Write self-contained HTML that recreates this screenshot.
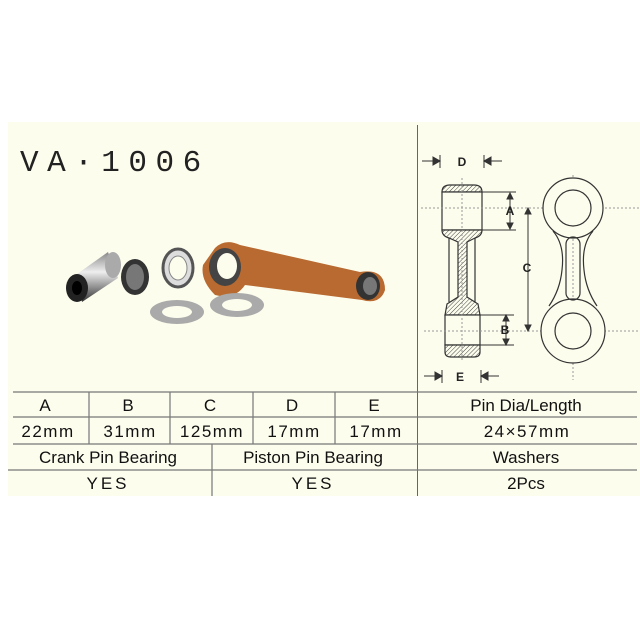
<!DOCTYPE html>
<html><head><meta charset="utf-8"><style>
html,body{margin:0;padding:0;background:#fff;}
body{width:640px;height:630px;position:relative;overflow:hidden;font-family:"Liberation Sans",sans-serif;}
</style></head><body>
<svg width="640" height="630" viewBox="0 0 640 630" xmlns="http://www.w3.org/2000/svg">
<defs>
<pattern id="h" width="3" height="3" patternUnits="userSpaceOnUse" patternTransform="rotate(45)">
<rect width="3" height="3" fill="#fdfdee"/><line x1="0" y1="0" x2="0" y2="3" stroke="#444" stroke-width="1"/>
</pattern>
<linearGradient id="pin" x1="0" y1="0" x2="0" y2="1"><stop offset="0" stop-color="#888"/><stop offset=".4" stop-color="#eee"/><stop offset="1" stop-color="#333"/></linearGradient>
</defs>
<rect x="8" y="122" width="632" height="374" fill="#fdfdee"/>
<text x="20" y="171" font-family="Liberation Mono,monospace" font-size="31" letter-spacing="8.5" fill="#222">VA·1006</text>
<!-- photo -->
<g>
<path d="M77 274 L108 252 L118 278 L82 302 Z" fill="url(#pin)"/>
<ellipse cx="113" cy="265" rx="8" ry="13" fill="#aaa"/>
<ellipse cx="77" cy="288" rx="11" ry="14" fill="#222"/>
<ellipse cx="77" cy="288" rx="5" ry="7" fill="#000"/>
<ellipse cx="135" cy="277" rx="14" ry="18" fill="#333"/>
<ellipse cx="135" cy="277" rx="9" ry="13" fill="#777"/>
<ellipse cx="178" cy="268" rx="15" ry="19" fill="#ddd" stroke="#555" stroke-width="3"/>
<ellipse cx="178" cy="268" rx="9" ry="12" fill="#fdfdee" stroke="#888" stroke-width="1"/>
<path d="M215 248 Q225 238 240 245 L360 272 Q385 268 385 290 Q380 305 362 300 L245 285 Q235 300 215 295 Q200 280 203 265 Z" fill="#b86a30"/>
<ellipse cx="225" cy="267" rx="16" ry="19" fill="#444"/>
<ellipse cx="227" cy="266" rx="10" ry="13" fill="#fdfdee"/>
<ellipse cx="368" cy="286" rx="12" ry="14" fill="#333"/>
<ellipse cx="370" cy="286" rx="7" ry="9" fill="#777"/>
<ellipse cx="177" cy="312" rx="27" ry="12" fill="#aaa"/>
<ellipse cx="177" cy="312" rx="15" ry="6" fill="#fdfdee"/>
<ellipse cx="237" cy="305" rx="27" ry="12" fill="#aaa"/>
<ellipse cx="237" cy="305" rx="15" ry="6" fill="#fdfdee"/>
</g>
<!-- divider -->
<line x1="417.5" y1="125" x2="417.5" y2="496" stroke="#666" stroke-width="1"/>
<!-- side view -->
<g stroke="#333" stroke-width="1.2" fill="none">
<path d="M442 192 Q442 185 450 185 L474 185 Q482 185 482 192 Z" fill="url(#h)"/>
<rect x="442" y="192" width="40" height="38" fill="#fdfdee"/>
<path d="M442 230 L482 230 Q482 236 475 238 L467 242 L467 297 L478 304 L480 315 L445 315 L447 304 L458 297 L458 242 L449 238 Q442 236 442 230 Z" fill="url(#h)"/>
<line x1="449" y1="238" x2="449" y2="302"/><line x1="475" y1="238" x2="475" y2="302"/>
<rect x="445" y="315" width="35" height="30" fill="#fdfdee"/>
<path d="M445 345 L480 345 L480 352 Q480 357 474 357 L451 357 Q445 357 445 352 Z" fill="url(#h)"/>
</g>
<g stroke="#999" stroke-width="1" stroke-dasharray="2,2" fill="none">
<line x1="462" y1="178" x2="462" y2="362"/>
<line x1="421" y1="208" x2="640" y2="208"/>
<line x1="424" y1="331" x2="640" y2="331"/>
<line x1="573" y1="175" x2="573" y2="380"/>
</g>
<g stroke="#333" stroke-width="1" fill="#333">
<line x1="482" y1="192" x2="516" y2="192"/><line x1="482" y1="230" x2="516" y2="230"/>
<line x1="480" y1="315" x2="514" y2="315"/><line x1="480" y1="345" x2="514" y2="345"/>
<line x1="510" y1="198" x2="510" y2="224"/><path d="M507 199 L510 193 L513 199Z M507 223 L510 229 L513 223Z"/>
<line x1="506" y1="320" x2="506" y2="340"/><path d="M503 321 L506 315 L509 321Z M503 339 L506 345 L509 339Z"/>
<line x1="528" y1="212" x2="528" y2="328"/><path d="M525 214 L528 208 L531 214Z M525 325 L528 331 L531 325Z"/>
<line x1="422" y1="161" x2="440" y2="161"/><path d="M433 157 L440 161 L433 165Z"/><line x1="440" y1="155" x2="440" y2="168"/>
<line x1="484" y1="161" x2="502" y2="161"/><path d="M491 157 L484 161 L491 165Z"/><line x1="484" y1="155" x2="484" y2="168"/>
<line x1="424" y1="376" x2="442" y2="376"/><path d="M435 372 L442 376 L435 380Z"/><line x1="442" y1="370" x2="442" y2="383"/>
<line x1="481" y1="376" x2="499" y2="376"/><path d="M488 372 L481 376 L488 380Z"/><line x1="481" y1="370" x2="481" y2="383"/>
</g>
<g font-family="Liberation Sans,sans-serif" font-weight="bold" font-size="12" fill="#222" text-anchor="middle">
<text x="462" y="166">D</text><text x="510" y="215">A</text><text x="527" y="272">C</text><text x="505" y="334">B</text><text x="460" y="381">E</text>
</g>
<!-- front view -->
<g stroke="#333" stroke-width="1.2" fill="none">
<path d="M553 231 Q565 245 562 270 Q560 290 549 306 M593 231 Q581 245 584 270 Q586 290 597 306"/>
<circle cx="573" cy="208" r="30" fill="#fdfdee"/>
<circle cx="573" cy="208" r="18"/>
<circle cx="573" cy="331" r="32" fill="#fdfdee"/>
<circle cx="573" cy="331" r="18"/>
<rect x="566" y="237" width="14" height="63" rx="7"/>
</g>
<!-- table -->
<g stroke="#777" stroke-width="1.2">
<line x1="13" y1="392" x2="637" y2="392"/>
<line x1="13" y1="417" x2="637" y2="417"/>
<line x1="13" y1="444" x2="637" y2="444"/>
<line x1="8" y1="470" x2="637" y2="470"/>
<line x1="89" y1="392" x2="89" y2="444"/>
<line x1="170" y1="392" x2="170" y2="444"/>
<line x1="253" y1="392" x2="253" y2="444"/>
<line x1="335" y1="392" x2="335" y2="444"/>
<line x1="212" y1="444" x2="212" y2="496"/>
</g>
<g font-family="Liberation Sans Narrow,Liberation Sans,sans-serif" font-size="17" fill="#111" text-anchor="middle">
<text x="45" y="411">A</text><text x="128" y="411">B</text><text x="210" y="411">C</text><text x="292" y="411">D</text><text x="374" y="411">E</text><text x="526" y="411">Pin Dia/Length</text>
<text x="48" y="437" letter-spacing="1.5">22mm</text><text x="130" y="437" letter-spacing="1.5">31mm</text><text x="212" y="437" letter-spacing="1.5">125mm</text><text x="294" y="437" letter-spacing="1.5">17mm</text><text x="376" y="437" letter-spacing="1.5">17mm</text><text x="527" y="437" letter-spacing="1.5">24×57mm</text>
<text x="108" y="463">Crank Pin Bearing</text><text x="313" y="463">Piston Pin Bearing</text><text x="526" y="463">Washers</text>
<text x="108" y="489" letter-spacing="3">YES</text><text x="313" y="489" letter-spacing="3">YES</text><text x="526" y="489">2Pcs</text>
</g>
</svg>
</body></html>
